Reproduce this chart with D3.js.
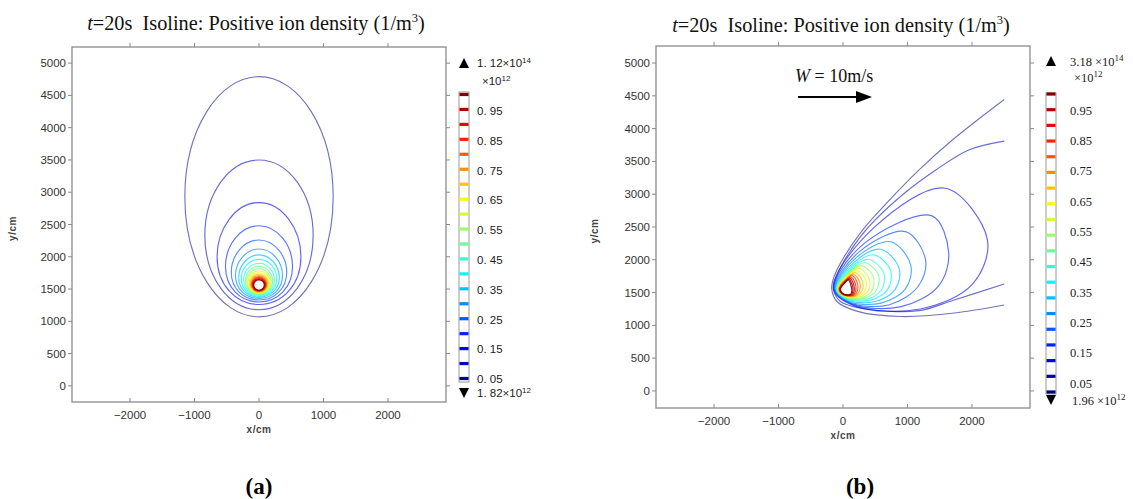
<!DOCTYPE html>
<html>
<head>
<meta charset="utf-8">
<script src="https://cdn.jsdelivr.net/npm/d3@7"></script>
<style>
  html, body { margin: 0; padding: 0; background: #fff; }
  svg { display: block; }
  text { white-space: pre; }
</style>
</head>
<body>
<svg id="chart" width="1133" height="499"></svg>
<script>
// Contour levels (x10^12 1/m^3) shared by both panels and colour bars
const levels = [0.05, 0.10, 0.15, 0.20, 0.25, 0.30, 0.35, 0.40, 0.45, 0.50,
                0.55, 0.60, 0.65, 0.70, 0.75, 0.80, 0.85, 0.90, 0.95, 1.00];
const barLabels = [0.05, 0.15, 0.25, 0.35, 0.45, 0.55, 0.65, 0.75, 0.85, 0.95];
const xTicks = [-2000, -1000, 0, 1000, 2000];
const yTicks = [0, 500, 1000, 1500, 2000, 2500, 3000, 3500, 4000, 4500, 5000];

// Panel (a): no wind. Isolines are closed eggs around the source at x = 0 (cm)
const leftSourceX = 0;
const leftTop       = [4790, 3500, 2840, 2480, 2260, 2120, 2030, 1960, 1900, 1850,
                       1812, 1780, 1753, 1730, 1710, 1693, 1678, 1664, 1652, 1642];
const leftBottom    = [1070, 1180, 1260, 1300, 1330, 1355, 1375, 1390, 1405, 1418,
                       1428, 1437, 1445, 1452, 1458, 1464, 1469, 1474, 1478, 1482];
const leftHalfWidth = [1150, 840, 650, 520, 430, 365, 315, 275, 240, 212,
                       190, 170, 153, 139, 127, 116, 106, 97, 89, 82];
const leftWideY     = [2930, 2330, 2000, 1850, 1760, 1710, 1680, 1660, 1640, 1625,
                       1613, 1603, 1595, 1588, 1582, 1577, 1573, 1569, 1565, 1562];

// Panel (b): wind W = 10 m/s. Two outer isolines leave the domain at x = 2500 cm
const rightOpen = [
  { level: 0.05, pts: [[2500,4445],[1700,3830],[1180,3370],[720,2910],[300,2450],[20,2050],
                       [-140,1740],[-175,1560],[-90,1360],[240,1210],[900,1135],[1690,1185],[2500,1311]] },
  { level: 0.10, pts: [[2500,3810],[1950,3675],[1440,3370],[970,3030],[400,2505],[90,2100],
                       [-90,1770],[-145,1555],[-40,1365],[350,1250],[1180,1225],[1700,1380],[2500,1631]] }
];
// Closed isolines of panel (b): nose, upper flank, top, right, lower right, bottom, lower flank
const rightClosed = [
  { level: 0.15, pts: [[-150,1560],[480,2490],[1590,3090],[2240,2300],[2000,1620],[1200,1250],[200,1290]] },
  { level: 0.20, pts: [[-140,1560],[330,2250],[1380,2670],[1640,2100],[1480,1600],[900,1285],[150,1320]] },
  { level: 0.25, pts: [[-130,1558],[250,2120],[970,2430],[1280,2000],[1170,1600],[720,1315],[110,1345]] },
  { level: 0.30, pts: [[-120,1556],[200,2030],[740,2275],[1050,1920],[970,1560],[590,1340],[85,1365]] },
  { level: 0.35, pts: [[-112,1555],[170,1960],[585,2160],[870,1870],[810,1550],[495,1365],[70,1385]] },
  { level: 0.40, pts: [[-105,1555],[145,1905],[480,2075],[740,1830],[690,1545],[425,1385],[60,1400]] },
  { level: 0.45, pts: [[-98,1555],[125,1860],[400,2005],[635,1795],[595,1540],[370,1400],[52,1412]] },
  { level: 0.50, pts: [[-92,1555],[110,1825],[340,1955],[550,1765],[518,1535],[325,1412],[45,1422]] },
  { level: 0.55, pts: [[-86,1554],[95,1795],[290,1910],[470,1740],[450,1532],[290,1422],[40,1432]] },
  { level: 0.60, pts: [[-80,1553],[82,1770],[250,1870],[405,1715],[390,1530],[258,1432],[35,1440]] },
  { level: 0.65, pts: [[-75,1553],[72,1748],[215,1835],[350,1695],[340,1530],[232,1440],[30,1447]] },
  { level: 0.70, pts: [[-70,1552],[62,1728],[185,1805],[300,1677],[295,1530],[208,1447],[26,1453]] },
  { level: 0.75, pts: [[-65,1552],[54,1710],[160,1780],[260,1660],[258,1530],[188,1453],[22,1458]] },
  { level: 0.80, pts: [[-60,1551],[46,1694],[140,1758],[222,1645],[225,1530],[170,1458],[19,1463]] },
  { level: 0.85, pts: [[-55,1551],[40,1680],[122,1738],[192,1632],[198,1530],[154,1463],[16,1467]] },
  { level: 0.90, pts: [[-50,1550],[34,1667],[108,1720],[166,1620],[175,1530],[140,1467],[13,1471]] },
  { level: 0.95, pts: [[-45,1550],[29,1656],[95,1705],[145,1610],[155,1530],[128,1471],[11,1474]] },
  { level: 1.00, pts: [[-40,1550],[25,1646],[85,1692],[125,1600],[137,1530],[116,1475],[9,1477]] }
];

// Colour bar end annotations
const leftBarMax = ["1. 12×10", "14"], leftBarMin = ["1. 82×10", "12"];
const rightBarMax = ["3.18 ×10", "14"], rightBarMin = ["1.96 ×10", "12"];

// ---------------------------------------------------------------------------
const svg = d3.select("#chart");

// jet colour map, t in [0,1]
function jet(t) {
  const c = v => Math.max(0, Math.min(1, v));
  const r = c(1.5 - Math.abs(4 * t - 3));
  const g = c(1.5 - Math.abs(4 * t - 2));
  const b = c(1.5 - Math.abs(4 * t - 1));
  return d3.rgb(r * 255, g * 255, b * 255).formatHex();
}
const levelColor = d3.scaleLinear().domain([0.05, 1.0]).range([0, 1]);
const colorOf = L => jet(levelColor(L));
// thin isolines read lighter in the low (dark blue) levels
const opacityOf = d3.scaleLinear().domain([0.05, 0.3, 1.0]).range([0.55, 0.7, 0.9]).clamp(true);

const axisColor = "#8a8a8a";
const tickFont = "'Liberation Sans', Arial, sans-serif";
const serifFont = "'Liberation Serif', 'Times New Roman', serif";

function drawFrame(g, x, y, opts) {
  const [x0, x1] = x.range();
  const [y0, y1] = y.range();
  g.append("rect")
    .attr("x", x0).attr("y", y1)
    .attr("width", x1 - x0).attr("height", y0 - y1)
    .attr("fill", "none").attr("stroke", axisColor).attr("stroke-width", 1.3);

  const tk = 4;
  xTicks.forEach(v => {
    g.append("line").attr("x1", x(v)).attr("x2", x(v)).attr("y1", y0).attr("y2", y0 - tk)
      .attr("stroke", axisColor);
    g.append("line").attr("x1", x(v)).attr("x2", x(v)).attr("y1", y1).attr("y2", y1 - tk)
      .attr("stroke", axisColor);
    g.append("text").attr("x", x(v)).attr("y", y0 + 17)
      .attr("text-anchor", "middle").attr("font-family", tickFont).attr("font-size", 11.5)
      .attr("fill", "#333").text(v < 0 ? "\u2212" + Math.abs(v) : String(v));
  });
  yTicks.forEach(v => {
    g.append("line").attr("x1", x0).attr("x2", x0 - tk).attr("y1", y(v)).attr("y2", y(v))
      .attr("stroke", axisColor);
    g.append("line").attr("x1", x1).attr("x2", x1 + tk).attr("y1", y(v)).attr("y2", y(v))
      .attr("stroke", axisColor);
    g.append("text").attr("x", x0 - 6).attr("y", y(v)).attr("dy", "0.35em")
      .attr("text-anchor", "end").attr("font-family", tickFont).attr("font-size", 11.5)
      .attr("fill", "#333").text(String(v));
  });
  g.append("text")
    .attr("transform", `translate(${opts.yLabelX},${(y0 + y1) / 2 + 4}) rotate(-90)`)
    .attr("text-anchor", "middle").attr("font-family", tickFont).attr("font-size", 10)
    .attr("font-weight", "bold").attr("fill", "#444").attr("letter-spacing", "0.5")
    .text("y/cm");
  g.append("text").attr("x", x(0)).attr("y", y0 + 31)
    .attr("text-anchor", "middle").attr("font-family", tickFont).attr("font-size", 10)
    .attr("font-weight", "bold").attr("fill", "#444").attr("letter-spacing", "0.5")
    .text("x/cm");
}

function drawTitle(cx, cy) {
  const t = svg.append("text").attr("x", cx).attr("y", cy).attr("text-anchor", "middle")
    .attr("font-family", serifFont).attr("font-size", 20.3).attr("fill", "#111");
  t.append("tspan").attr("font-style", "italic").text("t");
  t.append("tspan").text("=20s  Isoline: Positive ion density (1/m");
  t.append("tspan").attr("font-size", 12.5).attr("dy", -8).text("3");
  t.append("tspan").attr("dy", 8).text(")");
}

function drawColorBar(opts) {
  const g = svg.append("g");
  const stripeY = d3.scaleLinear().domain([0.05, 1.0]).range(opts.stripeRange);
  const labelY = d3.scaleLinear().domain([0.05, 0.95]).range(opts.labelRange);
  const top = opts.box[0], bottom = opts.box[1];
  g.append("rect").attr("x", opts.x).attr("y", top).attr("width", 10).attr("height", bottom - top)
    .attr("fill", "#fff").attr("stroke", "#9a9a9a").attr("stroke-width", 1);
  levels.forEach(L => {
    g.append("rect").attr("x", opts.x + 0.5).attr("y", stripeY(L) - 1.6).attr("width", 9).attr("height", 3.2)
      .attr("fill", colorOf(L));
  });
  barLabels.forEach(L => {
    g.append("text").attr("x", opts.labelX).attr("y", labelY(L)).attr("dy", "0.36em")
      .attr("font-family", opts.font).attr("font-size", opts.fontSize).attr("fill", "#222")
      .text(opts.fmt(L));
  });
  const tx = opts.x + 5;
  g.append("path").attr("d", `M${tx - 5},${opts.upY + 5}L${tx + 5},${opts.upY + 5}L${tx},${opts.upY - 5}Z`)
    .attr("fill", "#000");
  g.append("path").attr("d", `M${tx - 5},${opts.downY - 5}L${tx + 5},${opts.downY - 5}L${tx},${opts.downY + 5}Z`)
    .attr("fill", "#000");
  const ann = (txt, px, py) => {
    const t = g.append("text").attr("x", px).attr("y", py).attr("dy", "0.36em")
      .attr("font-family", opts.font).attr("font-size", opts.fontSize).attr("fill", "#222");
    t.append("tspan").text(txt[0]);
    t.append("tspan").attr("font-size", opts.fontSize - 3.5).attr("dy", -4.5).text(txt[1]);
  };
  ann(opts.maxTxt, opts.labelX, opts.upY);
  ann(opts.minTxt, opts.minX, opts.downY);
  ann(["\u00d710", "12"], opts.unitX, opts.unitY);
}

// ---------------- Panel (a) ----------------
const xA = d3.scaleLinear().domain([-2900, 2900]).range([72, 446]);
const yA = d3.scaleLinear().domain([-250, 5250]).range([402, 47]);
const gA = svg.append("g");
svg.append("clipPath").attr("id", "clipA").append("rect")
  .attr("x", 72).attr("y", 47).attr("width", 374).attr("height", 355);

const eggLine = d3.line().x(d => xA(d[0])).y(d => yA(d[1]))
  .curve(d3.curveCardinalClosed.tension(-0.657));
const leftShapes = levels.map((L, i) => ({
  level: L,
  pts: [[leftSourceX - leftHalfWidth[i], leftWideY[i]], [leftSourceX, leftTop[i]],
        [leftSourceX + leftHalfWidth[i], leftWideY[i]], [leftSourceX, leftBottom[i]]]
}));
gA.append("g").attr("clip-path", "url(#clipA)")
  .selectAll("path").data(leftShapes).join("path")
  .attr("d", d => eggLine(d.pts))
  .attr("fill", "none").attr("stroke", d => colorOf(d.level))
  .attr("stroke-width", 1.15).attr("stroke-opacity", d => opacityOf(d.level));
drawFrame(gA, xA, yA, { yLabelX: 16 });
drawTitle(256, 30);
drawColorBar({
  x: 459, box: [92, 382], stripeRange: [378.5, 94.5], labelRange: [379, 111],
  labelX: 477, minX: 477, unitX: 482, unitY: 81,
  upY: 63, downY: 393, font: tickFont, fontSize: 11.5,
  fmt: L => L.toFixed(2).replace(".", ". "),
  maxTxt: leftBarMax, minTxt: leftBarMin
});

// ---------------- Panel (b) ----------------
const xB = d3.scaleLinear().domain([-2900, 2900]).range([656, 1030]);
const yB = d3.scaleLinear().domain([-260, 5260]).range([408, 46]);
const gB = svg.append("g");
svg.append("clipPath").attr("id", "clipB").append("rect")
  .attr("x", 656).attr("y", 46).attr("width", 374).attr("height", 362);
const openLine = d3.line().x(d => xB(d[0])).y(d => yB(d[1])).curve(d3.curveCatmullRom.alpha(0.5));
const closedLine = d3.line().x(d => xB(d[0])).y(d => yB(d[1])).curve(d3.curveCatmullRomClosed.alpha(0.5));
const gBc = gB.append("g").attr("clip-path", "url(#clipB)");
gBc.selectAll("path.open").data(rightOpen).join("path").attr("class", "open")
  .attr("d", d => openLine(d.pts))
  .attr("fill", "none").attr("stroke", d => colorOf(d.level))
  .attr("stroke-width", 1.15).attr("stroke-opacity", d => opacityOf(d.level));
gBc.selectAll("path.closed").data(rightClosed).join("path").attr("class", "closed")
  .attr("d", d => closedLine(d.pts))
  .attr("fill", "none").attr("stroke", d => colorOf(d.level))
  .attr("stroke-width", 1.15).attr("stroke-opacity", d => opacityOf(d.level));
drawFrame(gB, xB, yB, { yLabelX: 598 });
drawTitle(841, 32);
drawColorBar({
  x: 1046, box: [93, 394], stripeRange: [392, 94], labelRange: [383, 110],
  labelX: 1070, minX: 1072, unitX: 1074, unitY: 77,
  upY: 61, downY: 400, font: serifFont, fontSize: 12.5,
  fmt: L => L.toFixed(2),
  maxTxt: rightBarMax, minTxt: rightBarMin
});

// Wind annotation
const w = svg.append("text").attr("x", 795).attr("y", 82)
  .attr("font-family", serifFont).attr("font-size", 18).attr("fill", "#111");
w.append("tspan").attr("font-style", "italic").text("W");
w.append("tspan").text(" = 10m/s");
svg.append("line").attr("x1", 798).attr("x2", 858).attr("y1", 97).attr("y2", 97)
  .attr("stroke", "#000").attr("stroke-width", 2);
svg.append("path").attr("d", "M856,91L872,97L856,103Z").attr("fill", "#000");

// Panel captions
[["(a)", 259], ["(b)", 860]].forEach(([s, cx]) => {
  svg.append("text").attr("x", cx).attr("y", 494).attr("text-anchor", "middle")
    .attr("font-family", serifFont)
    .attr("font-size", 23).attr("font-weight", "bold").attr("fill", "#000").text(s);
});
</script>
</body>
</html>
